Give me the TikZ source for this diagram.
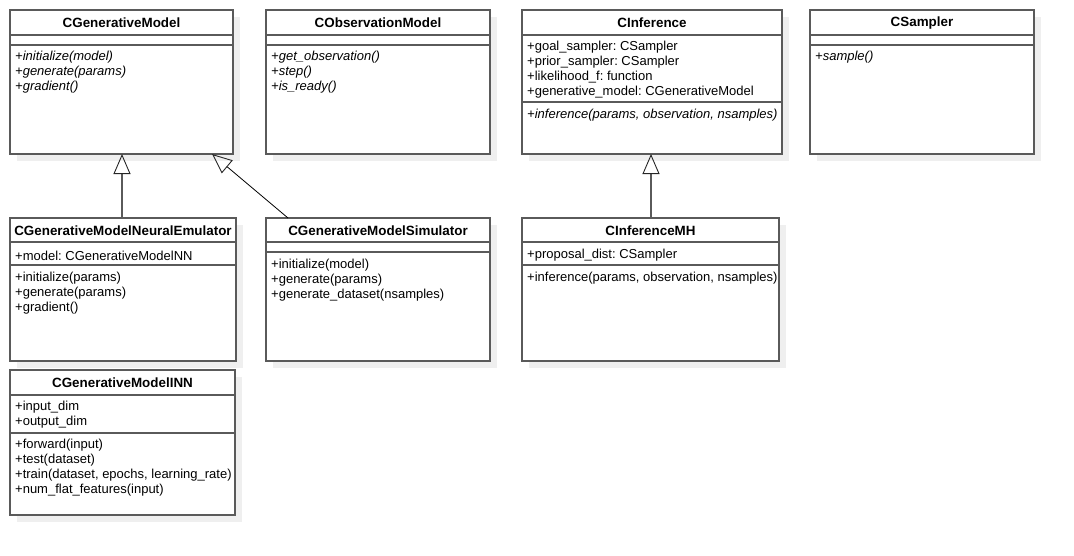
\documentclass[tikz,border=0pt]{standalone}
\usepackage{fontspec}
\setmainfont{Liberation Sans}
\usetikzlibrary{arrows.meta}
\frenchspacing
\definecolor{boxline}{HTML}{5A5A5A}
\definecolor{shadowc}{HTML}{EFEFEF}
\tikzset{
  classbox/.style={draw=boxline, line width=1.3pt, fill=white},
  shadowbox/.style={fill=shadowc, draw=none},
  sepline/.style={draw=boxline, line width=1.3pt},
  ctitle/.style={font=\fontsize{13.4}{15}\selectfont\bfseries, inner sep=0pt, anchor=center, yshift=-1pt},
  member/.style={font=\fontsize{13}{15}\selectfont\frenchspacing, inner sep=0pt, anchor=west, align=left, yshift=-1.5pt},
  abstractm/.style={member, font=\fontsize{13}{15}\selectfont\frenchspacing\itshape},
  inherit/.style={draw=boxline, line width=1.3pt, -{Triangle[open, length=20pt, width=17pt, line width=0.9pt, color=black!85]}},
  inheritthin/.style={draw=black, line width=0.8pt, -{Triangle[open, length=20pt, width=17pt, line width=0.9pt, color=black!85]}}
}
\begin{document}
\begin{tikzpicture}[x=1pt, y=-1pt]
\useasboundingbox (0,0) rectangle (1074,555);

% shadows
\foreach \a/\b/\c/\d in {10/10/233/154, 266/10/490/154, 522/10/782/154, 810/10/1034/154,
                         10/218/236/361, 266/218/490/361, 522/218/779/361, 10/370/235/515}
  \fill[shadowbox] (\a+7,\b+7) rectangle (\c+7,\d+7);

% ---- CGenerativeModel
\draw[classbox] (10,10) rectangle (233,154);
\draw[sepline] (10,35) -- (233,35);
\draw[sepline] (10,45) -- (233,45);
\node[ctitle] (gmT) at (121.5,22) {CGenerativeModel};
\node[abstractm] (gm1) at (15,56) {+initialize(model)};
\node[abstractm] (gm2) at (15,71) {+generate(params)};
\node[abstractm] (gm3) at (15,86) {+gradient()};
\coordinate (gmB) at (122,154);
\coordinate (gmBR2) at (212,154);

% ---- CObservationModel
\draw[classbox] (266,10) rectangle (490,154);
\draw[sepline] (266,35) -- (490,35);
\draw[sepline] (266,45) -- (490,45);
\node[ctitle] (omT) at (378,22) {CObservationModel};
\node[abstractm] (om1) at (271,56) {+get\_observation()};
\node[abstractm] (om2) at (271,71) {+step()};
\node[abstractm] (om3) at (271,86) {+is\_ready()};

% ---- CInference
\draw[classbox] (522,10) rectangle (782,154);
\draw[sepline] (522,35) -- (782,35);
\draw[sepline] (522,102) -- (782,102);
\node[ctitle] (infT) at (652,22) {CInference};
\node[member] (inf1) at (527,46) {+goal\_sampler: CSampler};
\node[member] (inf2) at (527,61) {+prior\_sampler: CSampler};
\node[member] (inf3) at (527,76) {+likelihood\_f: function};
\node[member] (inf4) at (527,91) {+generative\_model: CGenerativeModel};
\node[abstractm] (inf5) at (527,114) {+inference(params, observation, nsamples)};
\coordinate (infB) at (651,154);

% ---- CSampler
\draw[classbox] (810,10) rectangle (1034,154);
\draw[sepline] (810,35) -- (1034,35);
\draw[sepline] (810,45) -- (1034,45);
\node[ctitle] (samT) at (922,22) {CSampler};
\node[abstractm] (sam1) at (815,56) {+sample()};

% ---- CGenerativeModelNeuralEmulator
\draw[classbox] (10,218) rectangle (236,361);
\draw[sepline] (10,242) -- (236,242);
\draw[sepline] (10,265) -- (236,265);
\node[ctitle] (neT) at (123,230) {CGenerativeModelNeuralEmulator};
\node[member] (ne0) at (15,254) {+model: CGenerativeModelNN};
\node[member] (ne1) at (15,277) {+initialize(params)};
\node[member] (ne2) at (15,292) {+generate(params)};
\node[member] (ne3) at (15,307) {+gradient()};
\coordinate (neTop) at (122,218);

% ---- CGenerativeModelSimulator
\draw[classbox] (266,218) rectangle (490,361);
\draw[sepline] (266,242) -- (490,242);
\draw[sepline] (266,252) -- (490,252);
\node[ctitle] (simT) at (378,230) {CGenerativeModelSimulator};
\node[member] (sim1) at (271,264) {+initialize(model)};
\node[member] (sim2) at (271,279) {+generate(params)};
\node[member] (sim3) at (271,294) {+generate\_dataset(nsamples)};
\coordinate (simTop) at (288,218);

% ---- CInferenceMH
\draw[classbox] (522,218) rectangle (779,361);
\draw[sepline] (522,242) -- (779,242);
\draw[sepline] (522,265) -- (779,265);
\node[ctitle] (mhT) at (650.5,230) {CInferenceMH};
\node[member] (mh0) at (527,254) {+proposal\_dist: CSampler};
\node[member] (mh1) at (527,277) {+inference(params, observation, nsamples)};
\coordinate (mhTop) at (651,218);

% ---- CGenerativeModelINN
\draw[classbox] (10,370) rectangle (235,515);
\draw[sepline] (10,395) -- (235,395);
\draw[sepline] (10,433) -- (235,433);
\node[ctitle] (innT) at (122.5,382) {CGenerativeModelINN};
\node[member] (inn1) at (15,406) {+input\_dim};
\node[member] (inn2) at (15,421) {+output\_dim};
\node[member] (inn3) at (15,444) {+forward(input)};
\node[member] (inn4) at (15,459) {+test(dataset)};
\node[member] (inn5) at (15,474) {+train(dataset, epochs, learning\_rate)};
\node[member] (inn6) at (15,489) {+num\_flat\_features(input)};

% ---- inheritance connectors
\draw[inherit] (neTop) -- (gmB);
\draw[inheritthin] (simTop) -- (gmBR2);
\draw[inherit] (mhTop) -- (infB);
\end{tikzpicture}
\end{document}
